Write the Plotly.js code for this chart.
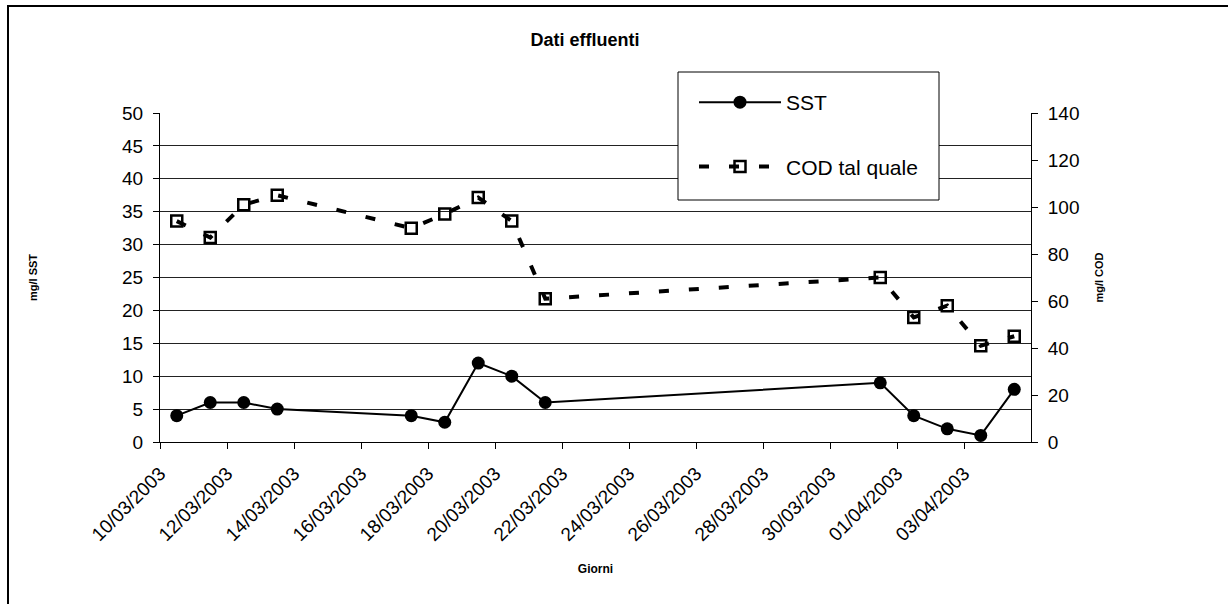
<!DOCTYPE html>
<html>
<head>
<meta charset="utf-8">
<script src="https://cdn.plot.ly/plotly-3.0.1.min.js"></script>
<style>html,body{margin:0;padding:0;background:#fff;}#chart{width:1228px;height:604px;}</style>
</head>
<body>
<div id="chart"></div>
<script>
// Data
const giorni = ['2003-03-10','2003-03-11','2003-03-12','2003-03-13','2003-03-17','2003-03-18','2003-03-19',
                '2003-03-20','2003-03-21','2003-03-31','2003-04-01','2003-04-02','2003-04-03','2003-04-04'];
const sst = [4, 6, 6, 5, 4, 3, 12, 10, 6, 9, 4, 2, 1, 8];
const cod = [94, 87, 101, 105, 91, 97, 104, 94, 61, 70, 53, 58, 41, 45];
const tickDates = ['2003-03-10','2003-03-12','2003-03-14','2003-03-16','2003-03-18','2003-03-20','2003-03-22',
                   '2003-03-24','2003-03-26','2003-03-28','2003-03-30','2003-04-01','2003-04-03'];
const seriesNames = ['SST', 'COD tal quale'];
const chartTitle = 'Dati effluenti';
const xTitle = 'Giorni';
const y1Title = 'mg/l SST';
const y2Title = 'mg/l COD';

const FONT = 'Liberation Sans, Arial, sans-serif';
const DAY = 86400000;

const traces = [
  {
    x: giorni, y: sst, name: seriesNames[0], type: 'scatter', mode: 'lines+markers',
    xperiod: DAY, xperiodalignment: 'middle',
    line: {color: '#000', width: 2},
    marker: {symbol: 'circle', size: 13, color: '#000'},
    legendgroup: 'a'
  },
  {
    x: giorni, y: cod, name: seriesNames[1], type: 'scatter', mode: 'lines+markers', yaxis: 'y2',
    xperiod: DAY, xperiodalignment: 'middle',
    line: {color: '#000', width: 4, dash: '10px,20px'},
    marker: {symbol: 'square', size: 11, color: 'rgba(255,255,255,0)', line: {color: '#000', width: 2.5}},
    legendgroup: 'b'
  }
];

const L = 160, R = 197, T = 113, B = 162;
const W = 1228 - L - R, H = 604 - T - B;
const px = v => (v - L) / W;
const py = v => (604 - B - v) / H;

const layout = {
  width: 1228, height: 604,
  margin: {l: L, r: R, t: T, b: B},
  paper_bgcolor: '#fff', plot_bgcolor: '#fff',
  font: {family: FONT, color: '#000', size: 19},
  title: {text: '<b>' + chartTitle + '</b>', font: {family: FONT, size: 18, color: '#000'},
          xref: 'paper', x: px(585), xanchor: 'center', yref: 'container', y: 1 - 40/604, yanchor: 'middle'},
  xaxis: {
    type: 'date', range: ['2003-03-10', '2003-04-05'],
    tickvals: tickDates, tickformat: '%d/%m/%Y', tickangle: -45,
    ticks: 'outside', ticklen: 6, tickcolor: '#000', ticklabelstandoff: 6,
    tickfont: {family: FONT, size: 19, color: '#000'},
    showline: true, linecolor: '#000', linewidth: 1, showgrid: false, zeroline: false,
    title: {text: '<b>' + xTitle + '</b>', font: {family: FONT, size: 12, color: '#000'}, standoff: 20}
  },
  yaxis: {
    range: [0, 50], dtick: 5, tick0: 0,
    ticks: 'outside', ticklen: 6, tickcolor: '#000', ticklabelstandoff: 6,
    tickfont: {family: FONT, size: 19, color: '#000'},
    showline: true, linecolor: '#000', linewidth: 1,
    showgrid: true, gridcolor: '#222', gridwidth: 1, zeroline: false,
    title: {text: '<b>' + y1Title + '</b>', font: {family: FONT, size: 11, color: '#000'}, standoff: 82}
  },
  yaxis2: {
    range: [0, 140], dtick: 20, tick0: 0, overlaying: 'y', side: 'right',
    ticks: 'outside', ticklen: 6, tickcolor: '#000', ticklabelstandoff: 6,
    tickfont: {family: FONT, size: 19, color: '#000'},
    showline: true, linecolor: '#000', linewidth: 1, showgrid: false, zeroline: false,
    title: {text: '<b>' + y2Title + '</b>', font: {family: FONT, size: 11, color: '#000'}, standoff: 16}
  },
  showlegend: true,
  legend: {
    x: px(694), y: py(82), xanchor: 'left', yanchor: 'top',
    bgcolor: 'rgba(0,0,0,0)', borderwidth: 0,
    font: {family: FONT, size: 21, color: '#000'},
    itemwidth: 82, traceorder: 'grouped', tracegroupgap: 34
  },
  shapes: [
    {type: 'rect', xref: 'paper', yref: 'paper', x0: px(8), x1: px(1300), y0: py(700), y1: py(6),
     line: {color: '#000', width: 2}, fillcolor: 'rgba(0,0,0,0)', layer: 'below'},
    {type: 'rect', xref: 'paper', yref: 'paper', x0: px(678), x1: px(939), y0: py(200), y1: py(72),
     line: {color: '#000', width: 1}, fillcolor: '#fff', layer: 'above'}
  ]
};

Plotly.newPlot('chart', traces, layout, {staticPlot: true, displayModeBar: false});
</script>
</body>
</html>
